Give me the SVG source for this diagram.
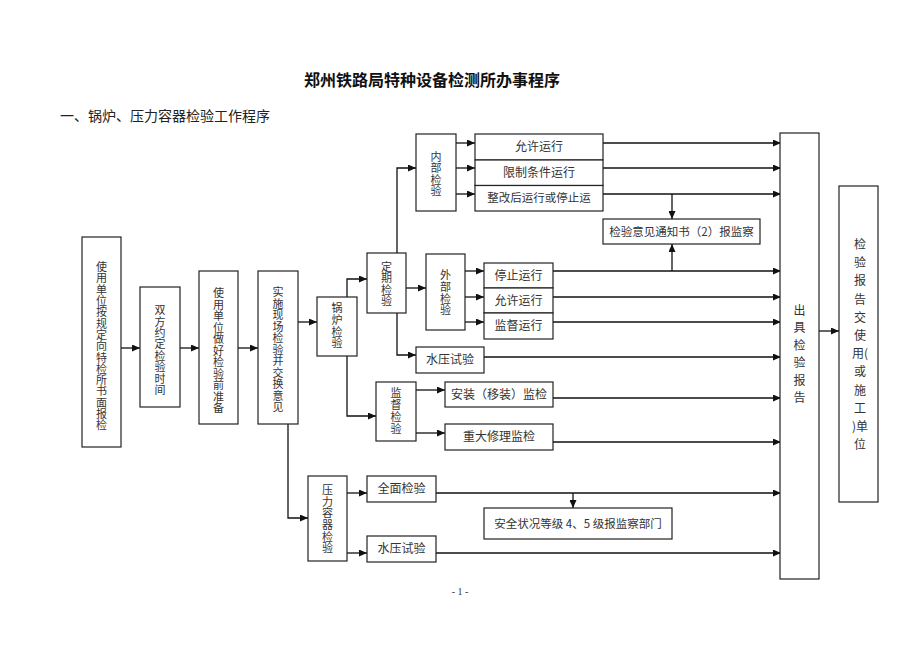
<svg xmlns="http://www.w3.org/2000/svg" width="920" height="651" viewBox="0 0 920 651">
<defs>
<marker id="ah" markerUnits="userSpaceOnUse" markerWidth="8" markerHeight="7" refX="8" refY="3.5" orient="auto">
<path d="M0,0 L8,3.5 L0,7 z" fill="#111"/>
</marker>
<style>
.box{fill:#fff;stroke:#222;stroke-width:1.2}
.t{font-family:"Noto Sans CJK SC","Noto Sans CJK JP",sans-serif;font-size:12px;fill:#333;text-anchor:middle}
.v{font-family:"Noto Sans CJK SC","Noto Sans CJK JP",sans-serif;font-size:11px;fill:#333;writing-mode:vertical-rl;text-orientation:upright}
.c path{fill:none;stroke:#111;stroke-width:1.3;marker-end:url(#ah)}
</style>
</defs>
<rect width="920" height="651" fill="#fff"/>
<text x="432" y="86" style="font-family:'Noto Sans CJK SC',sans-serif;font-size:16px;font-weight:bold;text-anchor:middle;fill:#111">郑州铁路局特种设备检测所办事程序</text>
<text x="60" y="121" style="font-family:'Noto Sans CJK SC',sans-serif;font-size:14px;fill:#222">一、锅炉、压力容器检验工作程序</text>

<g class="c" id="connectors">
<path d="M121,348 H140"/>
<path d="M180,348 H199"/>
<path d="M238,348 H258"/>
<path d="M298,322 H317"/>
<path d="M288,424 V518 H308"/>
<path d="M347,297 V279 H367"/>
<path d="M347,356 V416 H376"/>
<path d="M397,253 V168 H416"/>
<path d="M406,288 H426"/>
<path d="M397,313 V355 H416"/>
<path d="M456,143 H475"/>
<path d="M456,168 H475"/>
<path d="M456,194 H475"/>
<path d="M603,143 H781"/>
<path d="M603,168 H781"/>
<path d="M603,194 H781"/>
<path d="M672,194 V219"/>
<path d="M672,271 V244"/>
<path d="M465,271 H484"/>
<path d="M465,297 H484"/>
<path d="M465,322 H484"/>
<path d="M553,271 H781"/>
<path d="M553,297 H781"/>
<path d="M553,322 H781"/>
<path d="M484,357 H781"/>
<path d="M416,390 H445"/>
<path d="M416,433 H445"/>
<path d="M553,398 H781"/>
<path d="M553,442 H781"/>
<path d="M347,493 H367"/>
<path d="M347,553 H367"/>
<path d="M436,493 H781"/>
<path d="M436,553 H781"/>
<path d="M573,493 V508"/>
<path d="M819,331 H839"/>
</g>

<g id="n1"><rect class="box" x="82" y="237" width="39" height="210"/>
<text class="v" x="101.5" y="261.5" style="letter-spacing:0.3px">使用单位按规定向特检所书面报检</text></g>

<g id="n2"><rect class="box" x="140" y="287" width="40" height="120"/>
<text class="v" x="160" y="304.5" style="letter-spacing:0.4px">双方约定检验时间</text></g>

<g id="n3"><rect class="box" x="199" y="271" width="39" height="153"/>
<text class="v" x="218.5" y="287.5" style="letter-spacing:0.5px">使用单位做好检验前准备</text></g>

<g id="n4"><rect class="box" x="258" y="271" width="40" height="153"/>
<text class="v" x="278" y="286.5" style="letter-spacing:0.5px">实施现场检验并交换意见</text></g>

<g id="n5"><rect class="box" x="317" y="297" width="40" height="59"/>
<text class="v" x="337" y="302.5" style="letter-spacing:0.7px">锅炉检验</text></g>

<g id="n6"><rect class="box" x="367" y="253" width="39" height="60"/>
<text class="v" x="386.5" y="261.5" style="letter-spacing:0.2px">定期检验</text></g>

<g id="n7"><rect class="box" x="416" y="134" width="40" height="77"/>
<text class="v" x="436" y="151.5" style="letter-spacing:0.2px">内部检验</text></g>

<g id="n8"><rect class="box" x="475" y="134" width="128" height="26"/><text class="t" x="539" y="151">允许运行</text></g>
<g id="n9"><rect class="box" x="475" y="160" width="128" height="25.5"/><text class="t" x="539" y="177">限制条件运行</text></g>
<g id="n10"><rect class="box" x="475" y="185.5" width="128" height="25.5"/><text class="t" x="539" y="202" style="font-size:11.5px">整改后运行或停止运</text></g>

<g id="n11"><rect class="box" x="603" y="219" width="157" height="25"/><text class="t" x="681.5" y="236" style="font-size:11.5px">检验意见通知书（2）报监察</text></g>

<g id="n12"><rect class="box" x="426" y="254" width="39" height="76"/>
<text class="v" x="445.5" y="269.5" style="letter-spacing:0.7px">外部检验</text></g>

<g id="n13"><rect class="box" x="484" y="263" width="69" height="25"/><text class="t" x="518.5" y="280">停止运行</text></g>
<g id="n14"><rect class="box" x="484" y="288" width="69" height="25"/><text class="t" x="518.5" y="305">允许运行</text></g>
<g id="n15"><rect class="box" x="484" y="313" width="69" height="26"/><text class="t" x="518.5" y="330">监督运行</text></g>

<g id="n16"><rect class="box" x="416" y="347" width="68" height="26"/><text class="t" x="450" y="364">水压试验</text></g>

<g id="n17"><rect class="box" x="376" y="382" width="40" height="59"/>
<text class="v" x="396" y="387.5" style="letter-spacing:1px">监督检验</text></g>

<g id="n18"><rect class="box" x="445" y="382" width="108" height="25"/><text class="t" x="499" y="399">安装（移装）监检</text></g>
<g id="n19"><rect class="box" x="445" y="424" width="108" height="26"/><text class="t" x="499" y="441">重大修理监检</text></g>

<g id="n20"><rect class="box" x="308" y="476" width="39" height="85"/>
<text class="v" x="327.5" y="484.5" style="letter-spacing:0.6px">压力容器检验</text></g>

<g id="n21"><rect class="box" x="367" y="476" width="69" height="26"/><text class="t" x="401.5" y="493">全面检验</text></g>
<g id="n22"><rect class="box" x="367" y="536" width="69" height="26"/><text class="t" x="401.5" y="553">水压试验</text></g>
<g id="n23"><rect class="box" x="484" y="508" width="188" height="31"/><text class="t" x="578" y="528" style="font-size:11.5px">安全状况等级 4、5 级报监察部门</text></g>

<g id="n24"><rect class="box" x="780" y="133" width="39" height="446"/>
<text class="v" x="799.5" y="304" style="font-size:12px;letter-spacing:5.5px">出具检验报告</text></g>

<g id="n25"><rect class="box" x="839" y="186" width="39" height="316"/>
<text class="t" x="860" y="249"><tspan x="860">检</tspan><tspan x="860" dy="18.2">验</tspan><tspan x="860" dy="18.2">报</tspan><tspan x="860" dy="18.2">告</tspan><tspan x="860" dy="18.2">交</tspan><tspan x="860" dy="18.2">使</tspan><tspan x="860" dy="18.2">用(</tspan><tspan x="860" dy="18.2">或</tspan><tspan x="860" dy="18.2">施</tspan><tspan x="860" dy="18.2">工</tspan><tspan x="860" dy="18.2">)单</tspan><tspan x="860" dy="18.2">位</tspan></text></g>

<text x="460" y="595" style="font-family:'Liberation Serif',serif;font-size:10px;fill:#333;text-anchor:middle">- 1 -</text>
</svg>
